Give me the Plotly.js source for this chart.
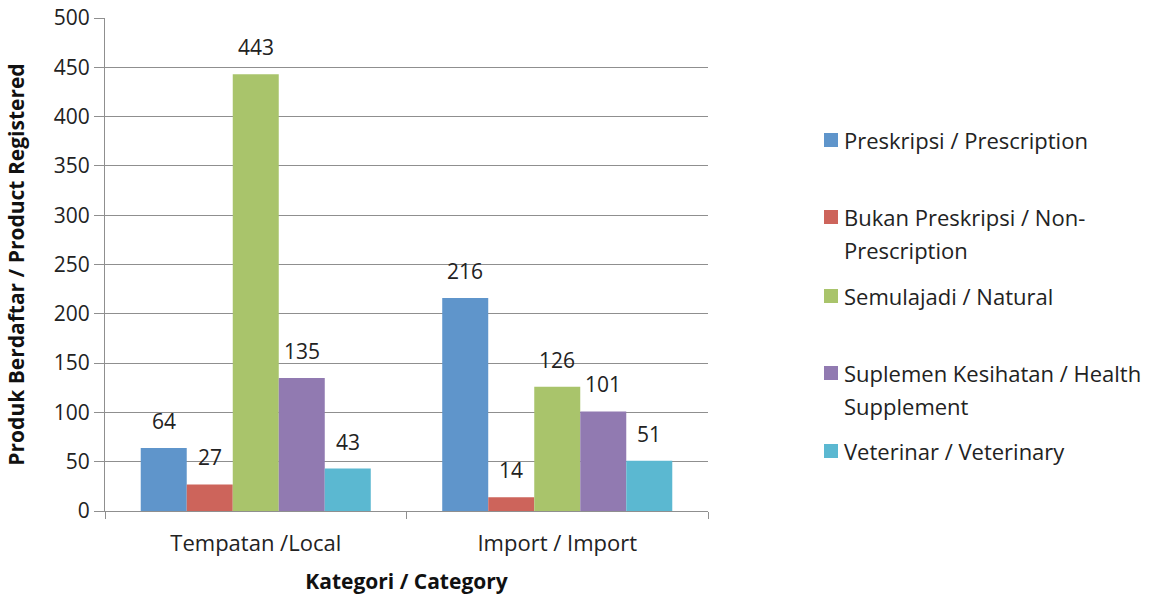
<!DOCTYPE html>
<html>
<head>
<meta charset="utf-8">
<script src="https://cdn.plot.ly/plotly-3.0.1.min.js"></script>
<style>
  html, body { margin: 0; padding: 0; background: #ffffff; }
  #chart { width: 1153px; height: 595px; }
</style>
</head>
<body>
<div id="chart"></div>
<script>
// Registered products by category and product type
const categories = ['Tempatan /Local', 'Import / Import'];
const seriesNames = [
  'Preskripsi / Prescription',
  'Bukan Preskripsi / Non-\nPrescription',
  'Semulajadi / Natural',
  'Suplemen Kesihatan / Health\nSupplement',
  'Veterinar / Veterinary'
];
const prescription     = [64, 216];
const nonPrescription  = [27, 14];
const natural          = [443, 126];
const healthSupplement = [135, 101];
const veterinary       = [43, 51];
const seriesValues = [prescription, nonPrescription, natural, healthSupplement, veterinary];
const yTicks = [0, 50, 100, 150, 200, 250, 300, 350, 400, 450, 500];

// Styling
const colors = ['#5f95cb', '#cd645b', '#a9c46b', '#917ab1', '#5bb8d1'];
const FONT = '"Open Sans", "Noto Sans", "DejaVu Sans", sans-serif';
const textColor = '#222222';
const gridColor = '#8f8f8f';
const W = 1153, H = 595;
const M = { l: 105, r: 445, t: 18, b: 84 };
const plotW = W - M.l - M.r;
const plotH = H - M.t - M.b;
const bargap = 0.237;
const barStep = (1 - bargap) / seriesValues.length;

const traces = seriesValues.map((vals, i) => ({
  type: 'bar',
  name: seriesNames[i].replace('\n', ' '),
  x: categories,
  y: vals,
  marker: { color: colors[i], line: { width: 0 } },
  hoverinfo: 'x+y+name',
  showlegend: false
}));

// Value labels above each bar
const annotations = [];
seriesValues.forEach((vals, i) => {
  vals.forEach((v, j) => {
    annotations.push({
      x: j + (i - (seriesValues.length - 1) / 2) * barStep,
      y: v,
      xref: 'x', yref: 'y',
      text: String(v),
      showarrow: false,
      yanchor: 'middle',
      yshift: 27,
      font: { family: FONT, size: 21, color: textColor }
    });
  });
});

// Legend drawn at the right: one swatch per series, labels wrapped over lines
const legendRowPx = [140, 217, 296, 373, 451];
const legendLineGap = 33;
const toPaperX = px => (px - M.l) / plotW;
const toPaperY = py => (H - M.b - py) / plotH;
const shapes = [];
seriesNames.forEach((name, i) => {
  const top = legendRowPx[i];
  shapes.push({
    type: 'rect', xref: 'paper', yref: 'paper',
    x0: toPaperX(824), x1: toPaperX(838),
    y0: toPaperY(top - 7), y1: toPaperY(top + 7),
    fillcolor: colors[i], line: { width: 0 }
  });
  name.split('\n').forEach((line, k) => {
    annotations.push({
      xref: 'paper', yref: 'paper',
      x: toPaperX(842), y: toPaperY(top + k * legendLineGap),
      xanchor: 'left', yanchor: 'middle',
      text: line, showarrow: false,
      font: { family: FONT, size: 22, color: textColor }
    });
  });
});

const layout = {
  width: W, height: H,
  margin: M,
  paper_bgcolor: '#ffffff',
  plot_bgcolor: '#ffffff',
  barmode: 'group',
  bargap: bargap,
  bargroupgap: 0,
  showlegend: false,
  font: { family: FONT, color: textColor },
  xaxis: {
    type: 'category',
    range: [-0.5, 1.5],
    showline: true, linecolor: gridColor, linewidth: 1,
    ticks: 'outside', tickson: 'boundaries', ticklen: 7, tickcolor: gridColor,
    ticklabelstandoff: 13,
    showgrid: false, zeroline: false,
    tickfont: { family: FONT, size: 22, color: textColor },
    title: {
      text: '<b>Kategori / Category</b>',
      font: { family: FONT, size: 21, color: '#111111' },
      standoff: 31
    },
    automargin: false
  },
  yaxis: {
    range: [0, 500],
    tickvals: yTicks,
    ticktext: yTicks.map(String),
    showline: true, linecolor: gridColor, linewidth: 1,
    ticks: 'outside', ticklen: 10, tickcolor: gridColor,
    showgrid: true, gridcolor: gridColor, gridwidth: 1,
    zeroline: false,
    tickfont: { family: FONT, size: 21, color: textColor },
    title: {
      text: '<b>Produk Berdaftar / Product Registered</b>',
      font: { family: FONT, size: 21, color: '#111111' },
      standoff: 23
    },
    automargin: false
  },
  annotations: annotations,
  shapes: shapes
};

Plotly.newPlot('chart', traces, layout, { displayModeBar: false, staticPlot: true });
</script>
</body>
</html>
